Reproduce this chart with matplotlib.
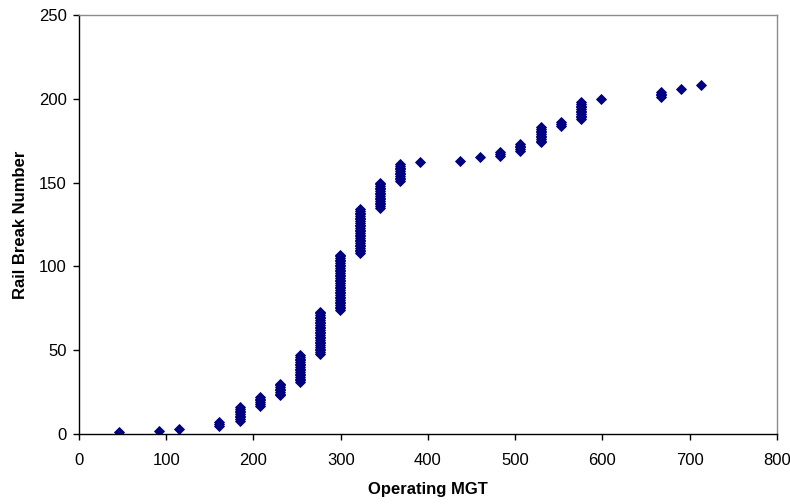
import matplotlib
matplotlib.use("Agg")
import matplotlib.pyplot as plt

# Operating MGT of each group of breaks, and the first / last rail break number in that group
group_mgt = [46, 92, 115, 161, 184, 207, 230, 253, 276, 299, 322, 345, 368, 391,
             437, 460, 483, 506, 529, 552, 575, 598, 667, 690, 713]
group_first = [1, 2, 3, 5, 8, 17, 23, 31, 48, 74, 108, 135, 151, 162,
               163, 165, 166, 169, 174, 184, 188, 200, 201, 206, 208]
group_last = [1, 2, 3, 7, 16, 22, 30, 47, 73, 107, 134, 150, 161, 162,
              163, 165, 168, 173, 183, 186, 198, 200, 204, 206, 208]

x_ticks = [0, 100, 200, 300, 400, 500, 600, 700, 800]
y_ticks = [0, 50, 100, 150, 200, 250]

xs, ys = [], []
for m, a, b in zip(group_mgt, group_first, group_last):
    for n in range(a, b + 1):
        xs.append(m)
        ys.append(n)

plt.rcParams['font.family'] = ['Liberation Sans', 'DejaVu Sans']

fig = plt.figure(figsize=(7.9, 5.04), dpi=100)
ax = fig.add_axes([0.1, 0.1389, 0.8835, 0.8313])

ax.plot(xs, ys, linestyle='none', marker='D', markersize=4.8,
        color='#000080', markeredgecolor='#000080', markeredgewidth=0.6)

ax.set_xlim(0, 800)
ax.set_ylim(0, 250)
ax.set_xticks(x_ticks)
ax.set_yticks(y_ticks)
ax.tick_params(axis='both', direction='out', length=4, width=1, labelsize=12,
               color='black', labelcolor='black')
ax.tick_params(axis='x', pad=10)
ax.tick_params(axis='y', pad=5)

for s in ['left', 'bottom']:
    ax.spines[s].set_color('black')
    ax.spines[s].set_linewidth(1)
for s in ['top', 'right']:
    ax.spines[s].set_color('#8c8c8c')
    ax.spines[s].set_linewidth(1)

ax.set_xlabel('Operating MGT', fontsize=12, fontweight='bold', labelpad=10)
ax.set_ylabel('Rail Break Number', fontsize=12, fontweight='bold', labelpad=8)

fig.savefig('out.png', dpi=100)
